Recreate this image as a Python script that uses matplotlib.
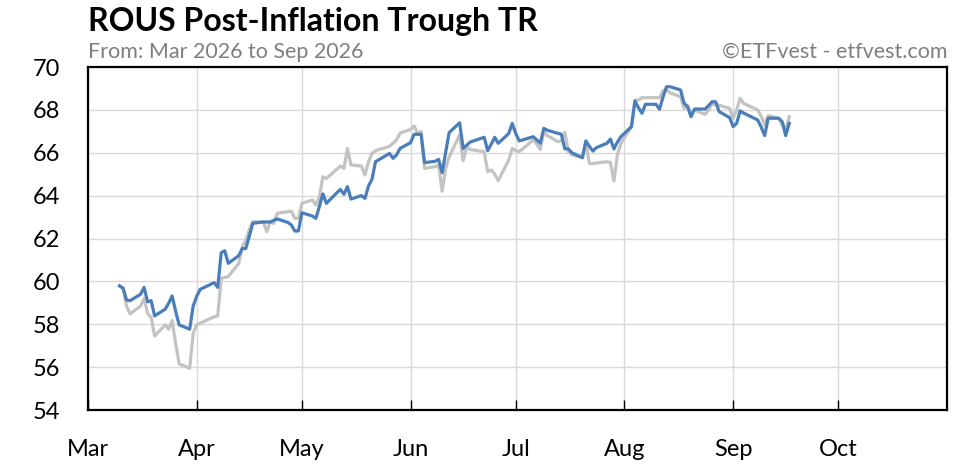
import pandas as pd
import matplotlib
matplotlib.use("Agg")
import matplotlib.pyplot as plt
import matplotlib.dates as mdates

plt.rcParams['font.family'] = ['Lato', 'DejaVu Sans']

# trading days (2026)
dates = [
    "03-10", "03-11", "03-12", "03-13", "03-16", "03-17", "03-18", "03-19", "03-20",
    "03-23", "03-24", "03-25", "03-26", "03-27", "03-30", "03-31",
    "04-01", "04-02", "04-06", "04-07", "04-08", "04-09", "04-10", "04-13", "04-14",
    "04-15", "04-16", "04-17", "04-20", "04-21", "04-22", "04-23", "04-24", "04-27",
    "04-28", "04-29", "04-30",
    "05-01", "05-04", "05-05", "05-06", "05-07", "05-08", "05-11", "05-12", "05-13",
    "05-14", "05-15", "05-18", "05-19", "05-20", "05-21", "05-22", "05-26", "05-27",
    "05-28", "05-29",
    "06-01", "06-02", "06-03", "06-04", "06-05", "06-08", "06-09", "06-10", "06-11",
    "06-12", "06-15", "06-16", "06-17", "06-18", "06-22", "06-23", "06-24", "06-25",
    "06-26", "06-29", "06-30",
    "07-01", "07-02", "07-06", "07-07", "07-08", "07-09", "07-10", "07-13", "07-14",
    "07-15", "07-16", "07-17", "07-20", "07-21", "07-22", "07-23", "07-24", "07-27",
    "07-28", "07-29", "07-30", "07-31",
    "08-03", "08-04", "08-05", "08-06", "08-07", "08-10", "08-11", "08-12", "08-13",
    "08-14", "08-17", "08-18", "08-19", "08-20", "08-21", "08-24", "08-25", "08-26",
    "08-27", "08-28", "08-31",
    "09-01", "09-02", "09-03", "09-04", "09-08", "09-09", "09-10", "09-11", "09-14",
    "09-15", "09-16", "09-17",
]

rous = [
    59.79, 59.68, 59.13, 59.10, 59.40, 59.72, 59.05, 59.10, 58.39,
    58.70, 58.98, 59.32, 58.60, 57.97, 57.77, 58.85,
    59.30, 59.63, 59.94, 59.72, 61.34, 61.43, 60.84, 61.20, 61.53,
    61.53, 62.10, 62.71, 62.77, 62.77, 62.77, 62.85, 62.91, 62.75,
    62.63, 62.35, 62.35,
    63.20, 63.05, 62.94, 63.50, 64.08, 63.64, 64.14, 64.29, 64.06,
    64.42, 63.84, 64.00, 63.87, 64.45, 64.76, 65.58, 65.97, 65.74,
    65.90, 66.20,
    66.47, 66.86, 66.86, 66.86, 65.54, 65.60, 65.69, 65.07, 66.00,
    66.94, 67.40, 66.20, 66.35, 66.50, 66.72, 66.10, 66.40, 66.72,
    66.44, 66.90, 67.37,
    66.90, 66.55, 66.75, 66.60, 66.44, 67.14, 67.05, 66.91, 66.86,
    66.18, 66.18, 66.00, 65.77, 66.55, 66.30, 66.08, 66.24, 66.44,
    66.64, 66.18, 66.50, 66.75,
    67.22, 68.41, 68.10, 67.84, 68.26, 68.26, 68.03, 68.60, 69.08,
    69.08, 68.93, 68.31, 68.15, 67.68, 68.04, 68.04, 68.20, 68.38,
    68.38, 67.92, 67.64,
    67.22, 67.37, 67.95, 67.85, 67.53, 67.20, 66.80, 67.61, 67.61,
    67.45, 66.80, 67.37,
]

benchmark = [
    59.79, 59.68, 58.85, 58.48, 58.85, 59.21, 58.51, 58.32, 57.45,
    57.97, 57.77, 58.17, 57.10, 56.15, 55.95, 57.58,
    57.97, 58.05, 58.35, 58.39, 60.14, 60.19, 60.22, 60.84, 61.62,
    61.93, 62.40, 62.79, 62.77, 62.32, 62.79, 62.70, 63.18, 63.25,
    63.28, 62.94, 62.94,
    63.64, 63.80, 63.56, 63.95, 64.88, 64.80, 65.23, 65.38, 65.27,
    66.20, 65.43, 65.38, 64.96, 65.58, 65.97, 66.10, 66.30, 66.44,
    66.60, 66.91,
    67.09, 67.25, 66.91, 67.00, 65.27, 65.35, 65.43, 64.20, 65.27,
    65.80, 66.83, 65.62, 66.28, 66.15, 66.05, 65.12, 65.20, 65.00,
    64.70, 65.66, 66.20,
    66.10, 66.05, 66.60, 66.40, 66.16, 66.98, 66.80, 66.52, 66.55,
    66.95, 66.05, 65.90, 65.77, 66.49, 65.50, 65.50, 65.52, 65.58,
    65.55, 64.68, 65.90, 66.44,
    67.22, 68.45, 68.46, 68.57, 68.57, 68.57, 68.57, 68.90, 68.93,
    68.80, 68.61, 68.07, 68.20, 67.84, 67.99, 67.79, 68.00, 68.26,
    68.24, 68.22, 68.07,
    67.61, 68.00, 68.54, 68.30, 68.00, 67.70, 67.30, 67.73, 67.61,
    67.30, 67.06, 67.68,
]

x = pd.to_datetime(["2026-" + d for d in dates])

fig = plt.figure(figsize=(9.65, 4.65), dpi=100)
ax = fig.add_axes([88 / 965, 1 - 410 / 465, (947 - 88) / 965, (410 - 67) / 465])

ax.plot(x, benchmark, color="#c3c3c3", lw=2.3, zorder=2)
ax.plot(x, rous, color="#4a7ebb", lw=2.3, zorder=3)

ax.set_xlim(pd.Timestamp("2026-03-01"), pd.Timestamp("2026-11-01"))
ax.set_ylim(54, 70)
ax.set_yticks(range(54, 71, 2))
ax.xaxis.set_major_locator(mdates.MonthLocator(bymonth=range(3, 11)))
ax.xaxis.set_major_formatter(mdates.DateFormatter("%b"))

ax.grid(True, color="#d9d9d9", lw=1.0, zorder=0)
for s in ax.spines.values():
    s.set_linewidth(1.6)
    s.set_color("black")
ax.tick_params(axis="x", direction="in", length=7, width=1, color="black",
               labelsize=17, pad=21)
ax.tick_params(axis="y", length=0, labelsize=17, pad=20)

fig.text(88 / 965, 1 - 22 / 465, "ROUS Post-Inflation Trough TR", fontsize=23,
         fontweight="bold", va="center", ha="left")
fig.text(88 / 965, 1 - 52 / 465, "From: Mar 2026 to Sep 2026", fontsize=15.5,
         color="#7f7f7f", va="center", ha="left")
fig.text(947 / 965, 1 - 52 / 465, "\u00a9ETFvest - etfvest.com", fontsize=15.5,
         color="#7f7f7f", va="center", ha="right")

fig.savefig("out.png", dpi=100)
